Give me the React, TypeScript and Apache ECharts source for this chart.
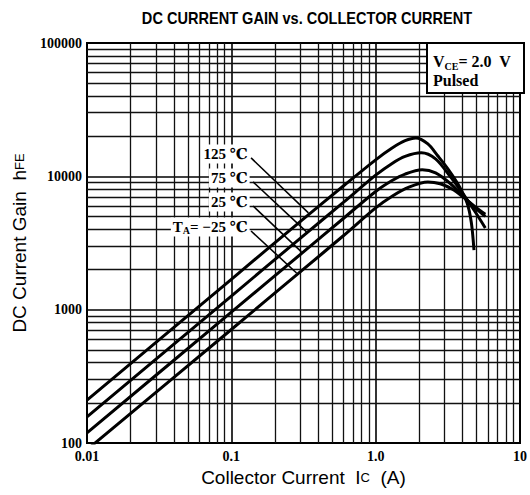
import React, { useEffect, useRef } from "react";
import * as echarts from "echarts";

// Axis tick labels
const xTickLabels = ["0.01", "0.1", "1.0", "10"];
const yTickLabels = ["100", "1000", "10000", "100000"];

// Minor grid lines (log paper)
const xMinorGrid = [
  0.02, 0.03, 0.04, 0.05, 0.06, 0.07, 0.08, 0.09,
  0.2, 0.3, 0.4, 0.5, 0.6, 0.7, 0.8, 0.9,
  2, 3, 4, 5, 6, 7, 8, 9,
];
const yMinorGrid = [
  200, 300, 400, 500, 600, 700, 800, 900,
  2000, 3000, 4000, 5000, 6000, 7000, 8000, 9000,
  20000, 30000, 40000, 50000, 60000, 70000, 80000, 90000,
];

// Curves: [Ic (A), hFE]
const curve125: [number, number][] = [
  [0.01, 210], [0.1, 1690], [0.3, 4580], [0.6, 8500], [1.0, 13300], [1.3, 16300],
  [1.6, 18500], [1.9, 19400], [2.3, 17500], [2.7, 14200], [3.2, 11200], [3.75, 8600],
  [4.3, 6300], [4.6, 4500], [4.8, 2800],
];
const curve75: [number, number][] = [
  [0.01, 157], [0.1, 1265], [0.3, 3430], [0.6, 6400], [1.0, 10200], [1.3, 12500],
  [1.6, 14100], [2.07, 15000], [2.6, 13500], [3.3, 9900], [4.1, 7200], [4.9, 5400],
  [5.75, 4100],
];
const curve25: [number, number][] = [
  [0.01, 119], [0.1, 957], [0.3, 2590], [0.6, 4850], [1.0, 7700], [1.3, 9300],
  [1.6, 10400], [2.1, 11200], [2.6, 10600], [3.3, 8800], [4.1, 7000], [4.9, 5800],
  [5.75, 5000],
];
const curveM25: [number, number][] = [
  [0.01, 89], [0.1, 710], [0.3, 1920], [0.6, 3600], [1.0, 5800], [1.3, 7100],
  [1.7, 8300], [2.3, 9080], [2.8, 8800], [3.4, 8000], [4.1, 6900], [4.9, 5900],
  [5.75, 5200],
];

const curveNames = ["125 ℃", "75 ℃", "25 ℃", "TA = −25 ℃"];
const curveLabels = [
  "{t|125 ℃}",
  "{t|75 ℃}",
  "{t|25 ℃}",
  "{t|T}{s|A}{t|= −25 ℃}",
];
// label anchor (right end of text) in data coords
const labelAnchors: [number, number][] = [
  [0.135, 14700], [0.135, 9730], [0.135, 6430], [0.135, 4170],
];
// leader lines in data coords
const leaderLines: [number, number][][] = [
  [[0.137, 13740], [0.342, 5315]],
  [[0.1416, 9080], [0.332, 3830]],
  [[0.1416, 5995], [0.306, 2710]],
  [[0.137, 3890], [0.283, 1884]],
];

const W = 530;
const H = 495;

export default function App() {
  const ref = useRef<HTMLDivElement>(null);
  useEffect(() => {
    if (!ref.current) return;
    const chart = echarts.init(ref.current, undefined, { renderer: "svg", width: W, height: H });
    const curves = [curve125, curve75, curve25, curveM25];
    const serif = "'Liberation Serif', 'DejaVu Serif', serif";
    const sans = "'Liberation Sans', Arial, sans-serif";
    const option: any = {
      animation: false,
      backgroundColor: "#fff",
      grid: {
        left: 87, right: 6, top: 43, bottom: 52,
        show: true, borderColor: "#000", borderWidth: 2, backgroundColor: "transparent",
      },
      xAxis: {
        type: "log", logBase: 10, min: 0.01, max: 10,
        axisLine: { show: false }, axisTick: { show: false },
        splitLine: { show: true, lineStyle: { color: "#000", width: 1.6 } },
        axisLabel: {
          margin: 6, color: "#000", fontFamily: serif, fontWeight: "bold", fontSize: 14,
          formatter: (v: number) => xTickLabels[Math.round(Math.log10(v)) + 2] ?? "",
        },
        name: "Collector Current  I{s|C}  (A)",
        nameLocation: "middle", nameGap: 24,
        nameTextStyle: {
          color: "#000", fontFamily: sans, fontSize: 19,
          rich: { s: { fontSize: 13, fontFamily: sans, color: "#000" } },
        },
      },
      yAxis: {
        type: "log", logBase: 10, min: 100, max: 100000,
        axisLine: { show: false }, axisTick: { show: false },
        splitLine: { show: true, lineStyle: { color: "#000", width: 1.6 } },
        axisLabel: {
          margin: 5, color: "#000", fontFamily: serif, fontWeight: "bold", fontSize: 14,
          formatter: (v: number) => yTickLabels[Math.round(Math.log10(v)) - 2] ?? "",
        },
        name: "DC Current Gain  h{s|FE}",
        nameLocation: "middle", nameGap: 55, nameRotate: 90,
        nameTextStyle: {
          color: "#000", fontFamily: sans, fontSize: 19,
          rich: { s: { fontSize: 13, fontFamily: sans, color: "#000" } },
        },
      },
      series: [
        {
          type: "line", name: "grid", data: [[0.01, 100]], showSymbol: false, silent: true,
          lineStyle: { opacity: 0 }, z: 1,
          markLine: {
            silent: true, symbol: ["none", "none"], z: 1, label: { show: false },
            lineStyle: { color: "#111", width: 1.3, type: "solid" },
            data: [
              ...xMinorGrid.map((v) => ({ xAxis: v })),
              ...yMinorGrid.map((v) => ({ yAxis: v })),
            ],
          },
        },
        ...curves.map((c, i) => ({
          type: "line", name: curveNames[i], data: c, showSymbol: false, smooth: 0.3,
          lineStyle: { color: "#000", width: 3 }, z: 3, clip: true,
        })),
        {
          type: "line", name: "annotations", data: [[0.01, 100]], showSymbol: false, silent: true,
          lineStyle: { opacity: 0 }, z: 6,
          markLine: {
            silent: true, symbol: ["none", "none"], z: 6, label: { show: false },
            lineStyle: { color: "#000", width: 1.6, type: "solid" },
            data: leaderLines.map((l) => [{ coord: l[0] }, { coord: l[1] }]),
          },
          markPoint: {
            silent: true, z: 7, symbol: "rect", symbolSize: 1,
            itemStyle: { color: "transparent" },
            label: {
              show: true, position: "left", distance: 0,
              backgroundColor: "#fff", padding: [1, 2, 1, 2],
              color: "#000", fontFamily: serif, fontSize: 15, fontWeight: "bold",
              rich: {
                t: { fontFamily: serif, fontSize: 15, fontWeight: "bold", color: "#000", lineHeight: 17, verticalAlign: "middle" },
                s: { fontFamily: serif, fontSize: 10, fontWeight: "bold", color: "#000", lineHeight: 17, verticalAlign: "bottom" },
              },
            },
            data: labelAnchors.map((a, i) => ({ coord: a, label: { formatter: curveLabels[i] } })),
          },
        },
      ],
      graphic: [
        {
          type: "text", x: 307, y: 18, z: 100, scaleX: 0.91,
          style: {
            text: "DC CURRENT GAIN vs. COLLECTOR CURRENT",
            font: `bold 16px ${sans}`, fill: "#000", align: "center", verticalAlign: "middle",
          },
        },
        {
          type: "rect", z: 100,
          shape: { x: 427, y: 43, width: 97, height: 50 },
          style: { fill: "#fff", stroke: "#000", lineWidth: 2 },
        },
        {
          type: "text", x: 433, y: 61, z: 101,
          style: {
            text: "{a|V}{b|CE}{a|= 2.0  V}",
            fill: "#000", align: "left", verticalAlign: "middle",
            rich: {
              a: { fontFamily: serif, fontSize: 16, fontWeight: "bold", fill: "#000", lineHeight: 20, verticalAlign: "middle" },
              b: { fontFamily: serif, fontSize: 10, fontWeight: "bold", fill: "#000", lineHeight: 20, verticalAlign: "bottom" },
            },
          },
        },
        {
          type: "text", x: 433, y: 80, z: 101,
          style: {
            text: "Pulsed", font: `bold 16px ${serif}`, fill: "#000",
            align: "left", verticalAlign: "middle",
          },
        },
      ],
    };
    chart.setOption(option);
    return () => chart.dispose();
  }, []);
  return (
    <div
      ref={ref}
      style={{ position: "absolute", left: 0, top: 0, width: W, height: H, background: "#fff" }}
    />
  );
}
